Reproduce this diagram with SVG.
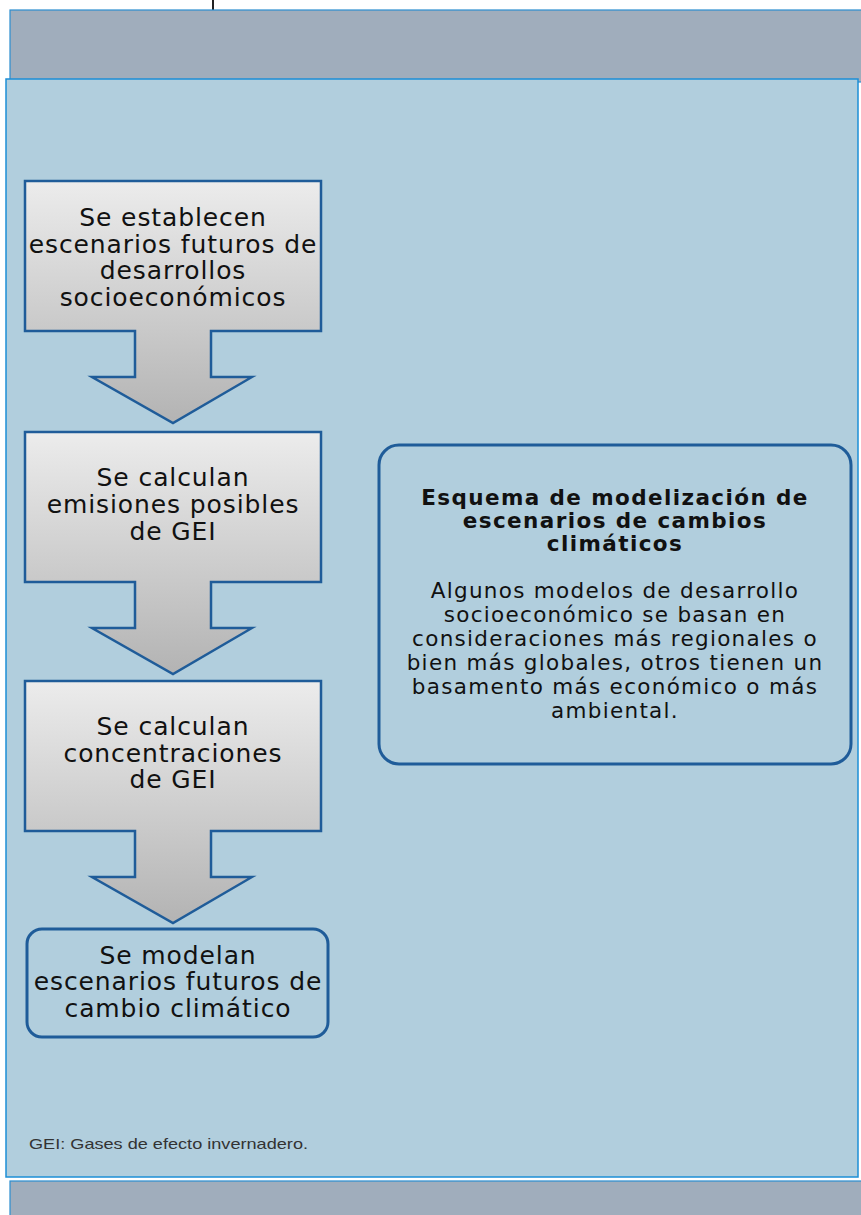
<svg xmlns="http://www.w3.org/2000/svg" width="861" height="1215" viewBox="0 0 861 1215">
<defs>
<linearGradient id="g" x1="0" y1="0" x2="0" y2="1">
<stop offset="0" stop-color="#ececec"/>
<stop offset="1" stop-color="#b3b3b3"/>
</linearGradient>
<style>
.band{fill:#a0adbc;stroke:#2a8ed0;stroke-width:1.2}
.panel{fill:#b1cedd;stroke:#1d8fd6;stroke-width:1.5}
.call{fill:url(#g);stroke:#1f5c99;stroke-width:2.5;stroke-linejoin:miter}
.rbox{fill:none;stroke:#1f5c99;stroke-width:3}
.t{font-family:"DejaVu Sans",Verdana,sans-serif;font-size:25px;letter-spacing:0.9px;fill:#111;text-anchor:middle}
.h{font-family:"DejaVu Sans",Verdana,sans-serif;font-size:21.5px;letter-spacing:1.4px;font-weight:bold;fill:#111;text-anchor:middle}
.b{font-family:"DejaVu Sans",Verdana,sans-serif;font-size:21.5px;letter-spacing:1.3px;fill:#111;text-anchor:middle}
.fn{font-family:"Liberation Sans",Arial,sans-serif;font-size:15px;fill:#333}
</style>
</defs>
<g id="background">
<line x1="213" y1="0" x2="213" y2="10" stroke="#222" stroke-width="2"/>
<rect class="band" x="10" y="10" width="853" height="72"/>
<rect class="band" x="10" y="1181" width="853" height="40"/>
<rect class="panel" x="6" y="79" width="852" height="1098"/>
</g>
<g id="connectors"/>
<g id="node1">
<path class="call" d="M25,181 H321 V331 H211 V377 H252 L173,423 L92,377 H135 V331 H25 Z"/>
<text class="t" x="173" y="226">Se establecen</text>
<text class="t" x="173" y="252.5">escenarios futuros de</text>
<text class="t" x="173" y="279">desarrollos</text>
<text class="t" x="173" y="305.5">socioeconómicos</text>
</g>
<g id="node2">
<path class="call" d="M25,432 H321 V582 H211 V628 H252 L173,674 L92,628 H135 V582 H25 Z"/>
<text class="t" x="173" y="486">Se calculan</text>
<text class="t" x="173" y="513">emisiones posibles</text>
<text class="t" x="173" y="540">de GEI</text>
</g>
<g id="node3">
<path class="call" d="M25,681 H321 V831 H211 V877 H252 L173,923 L92,877 H135 V831 H25 Z"/>
<text class="t" x="173" y="735">Se calculan</text>
<text class="t" x="173" y="761.5">concentraciones</text>
<text class="t" x="173" y="788">de GEI</text>
</g>
<g id="node4">
<rect class="rbox" x="27" y="929" width="301" height="108" rx="15"/>
<text class="t" x="178" y="963.5">Se modelan</text>
<text class="t" x="178" y="990">escenarios futuros de</text>
<text class="t" x="178" y="1016.5">cambio climático</text>
</g>
<g id="info">
<rect class="rbox" x="379" y="445" width="472" height="319" rx="20"/>
<text class="h" x="615" y="505">Esquema de modelización de</text>
<text class="h" x="615" y="528">escenarios de cambios</text>
<text class="h" x="615" y="550.5">climáticos</text>
<text class="b" x="615" y="598">Algunos modelos de desarrollo</text>
<text class="b" x="615" y="622">socioeconómico se basan en</text>
<text class="b" x="615" y="646">consideraciones más regionales o</text>
<text class="b" x="615" y="670">bien más globales, otros tienen un</text>
<text class="b" x="615" y="694">basamento más económico o más</text>
<text class="b" x="615" y="718">ambiental.</text>
</g>
<g id="footnote">
<text class="fn" x="29" y="1149" textLength="279" lengthAdjust="spacingAndGlyphs">GEI: Gases de efecto invernadero.</text>
</g>
</svg>
